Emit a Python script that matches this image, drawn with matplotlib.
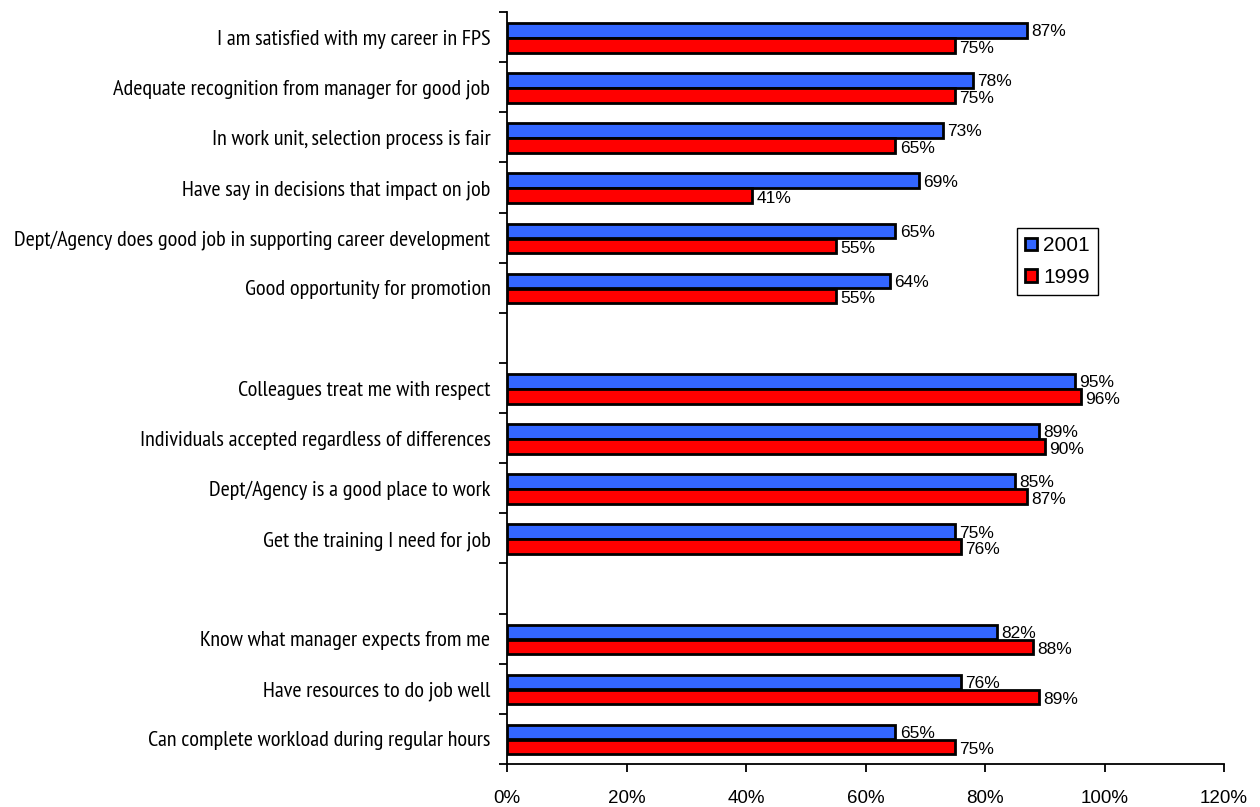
import numpy as np
import matplotlib.pyplot as plt
from matplotlib.ticker import FuncFormatter

# survey items, top to bottom; empty strings are spacer rows between sections
items = [
    'I am satisfied with my career in FPS',
    'Adequate recognition from manager for good job',
    'In work unit, selection process is fair',
    'Have say in decisions that impact on job',
    'Dept/Agency does good job in supporting career development',
    'Good opportunity for promotion',
    '',
    'Colleagues treat me with respect',
    'Individuals accepted regardless of differences',
    'Dept/Agency is a good place to work',
    'Get the training I need for job',
    '',
    'Know what manager expects from me',
    'Have resources to do job well',
    'Can complete workload during regular hours',
]
pct_2001 = [87, 78, 73, 69, 65, 64, None, 95, 89, 85, 75, None, 82, 76, 65]
pct_1999 = [75, 75, 65, 41, 55, 55, None, 96, 90, 87, 76, None, 88, 89, 75]

x_ticks = [0, 20, 40, 60, 80, 100, 120]

BLUE = '#3366FF'
RED = '#FF0000'
NARROW = ['PT Sans Narrow', 'Roboto Condensed', 'DejaVu Sans']
REGULAR = ['Liberation Sans', 'DejaVu Sans']


def main():
    fig = plt.figure(figsize=(12.6, 8.07), dpi=100)
    ax = fig.add_axes([0.4025, 0.0533, 0.569, 0.9318])

    rows = np.arange(len(items))
    h = 0.29
    keep = [i for i, v in enumerate(pct_2001) if v is not None]
    v01 = [pct_2001[i] for i in keep]
    v99 = [pct_1999[i] for i in keep]
    y01 = rows[keep] - 0.135
    y99 = rows[keep] + 0.165

    b01 = ax.barh(y01, v01, height=h, color=BLUE, edgecolor='black',
                  linewidth=2.0, label='2001')
    b99 = ax.barh(y99, v99, height=h, color=RED, edgecolor='black',
                  linewidth=2.0, label='1999')

    for y, v in zip(y01, v01):
        ax.annotate(f'{v}%', (v, y), xytext=(3, -1), textcoords='offset points',
                    va='center', ha='left', fontsize=12.5, family=REGULAR)
    for y, v in zip(y99, v99):
        ax.annotate(f'{v}%', (v, y), xytext=(3, -2), textcoords='offset points',
                    va='center', ha='left', fontsize=12.5, family=REGULAR)

    ax.set_xlim(0, 120)
    ax.set_ylim(len(items) - 0.5, -0.5)
    ax.set_xticks(x_ticks)
    ax.xaxis.set_major_formatter(FuncFormatter(lambda v, _: f'{v:.0f}%'))

    # tick marks sit between rows, labels at row centres
    ax.set_yticks(np.arange(len(items) + 1) - 0.5)
    ax.set_yticklabels([])
    ax.set_yticks(rows, minor=True)
    ax.set_yticklabels(items, minor=True, family=NARROW, fontsize=16)
    ax.tick_params(axis='y', which='minor', length=0, pad=12)
    ax.tick_params(axis='y', which='major', length=6, width=1.3, direction='out')
    ax.tick_params(axis='x', length=6, width=1.3, direction='out', pad=13,
                   labelsize=13.5)
    for t in ax.get_xticklabels():
        t.set_family(REGULAR)

    for s in ('top', 'right'):
        ax.spines[s].set_visible(False)
    for s in ('left', 'bottom'):
        ax.spines[s].set_linewidth(1.3)

    leg = fig.legend(handles=[b01, b99], loc='upper left',
                     bbox_to_anchor=(1017 / 1260, 1 - 228 / 807),
                     borderaxespad=0,
                     prop={'family': REGULAR, 'size': 15},
                     handlelength=0.55, handleheight=0.55, handletextpad=0.3,
                     borderpad=0.4, labelspacing=0.6, fancybox=False,
                     edgecolor='black', framealpha=1)
    leg.get_frame().set_linewidth(1.0)

    fig.savefig('out.png', dpi=100)


if __name__ == '__main__':
    main()
